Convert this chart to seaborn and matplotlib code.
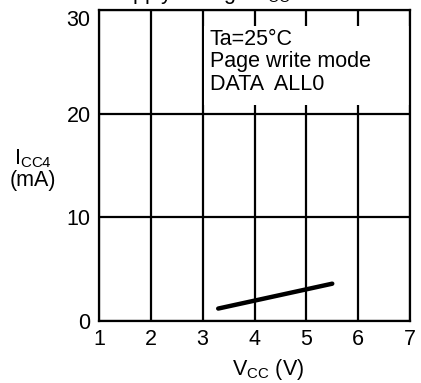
import matplotlib
matplotlib.use("Agg")
import matplotlib.pyplot as plt
from matplotlib.patches import Rectangle
import seaborn as sns
import pandas as pd

# Supply current in page write mode vs. supply voltage
vcc = [3.3, 5.5]
icc4 = [1.2, 3.6]
x_ticks = [1, 2, 3, 4, 5, 6, 7]
y_ticks = [0, 10, 20, 30]
conditions = ["Ta=25°C", "Page write mode", "DATA  ALL0"]

sns.set_theme(style="white")
plt.rcParams["font.family"] = ["Liberation Sans", "DejaVu Sans"]
plt.rcParams["mathtext.fontset"] = "custom"
plt.rcParams["mathtext.rm"] = "Liberation Sans"

FS = 15.5
fig = plt.figure(figsize=(4.21, 3.83), dpi=100)
ax = fig.add_axes([99 / 421, 1 - 321 / 383, 311 / 421, 311 / 383])

df = pd.DataFrame({"Vcc": vcc, "Icc4": icc4})
sns.lineplot(data=df, x="Vcc", y="Icc4", ax=ax, color="black", lw=3.2,
             solid_capstyle="round", zorder=4)

ax.set_xlim(1, 7)
ax.set_ylim(0, 30)
ax.set_xticks(x_ticks)
ax.set_yticks(y_ticks)
ax.set_xticklabels([str(v) for v in x_ticks], fontsize=FS)
ax.set_yticklabels([str(v) for v in y_ticks], fontsize=FS)
ax.tick_params(axis="both", length=0, pad=6, colors="black")
ax.set_xlabel("")
ax.set_ylabel("")
# keep the top value label inside the figure
ax.get_yticklabels()[-1].set_verticalalignment("top")

ax.grid(True, color="black", lw=1.6)
ax.set_axisbelow(True)
for s in ax.spines.values():
    s.set_color("black")
    s.set_linewidth(1.6)

# white panel behind the conditions text
ax.add_patch(Rectangle((3.03, 20.8), 3.97, 7.7, facecolor="white",
                       edgecolor="none", zorder=1))
ax.text(3.14, 28.2, "\n".join(conditions), fontsize=FS, va="top", ha="left",
        linespacing=1.1, color="black", zorder=5)

fig.text(33 / 421, 1 - 169 / 383, "I$_{\\mathregular{CC4}}$\n(mA)", fontsize=FS,
         ha="center", va="center", linespacing=1.0, color="black")
fig.text(268 / 421, 1 - 369 / 383, "V$_{\\mathregular{CC}}$ (V)", fontsize=FS,
         ha="center", va="center", color="black")
fig.text(106 / 421, 1 + 0.5 / 383, "Supply voltage V$_{\\mathregular{CC}}$",
         fontsize=FS, ha="left", va="baseline", color="black")

fig.savefig("out.png", dpi=100)
